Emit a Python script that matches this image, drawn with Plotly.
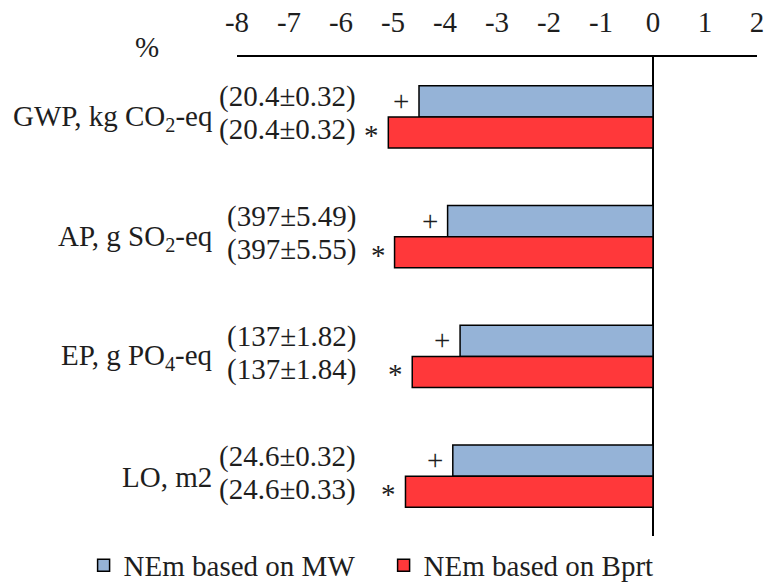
import plotly.graph_objects as go

categories = ["GWP", "AP", "EP", "LO"]
category_labels = ["GWP, kg CO<sub>2</sub>-eq", "AP, g SO<sub>2</sub>-eq",
                   "EP, g PO<sub>4</sub>-eq", "LO, m2"]
mw_values = [-4.50, -3.95, -3.71, -3.85]
bprt_values = [-5.09, -4.97, -4.63, -4.76]
mw_labels = ["(20.4±0.32)", "(397±5.49)", "(137±1.82)", "(24.6±0.32)"]
bprt_labels = ["(20.4±0.32)", "(397±5.55)", "(137±1.84)", "(24.6±0.33)"]
mw_marks = ["+", "+", "+", "+"]
bprt_marks = ["*", "*", "*", "*"]
tick_vals = [-8, -7, -6, -5, -4, -3, -2, -1, 0, 1, 2]
tick_text = ["-8", "-7", "-6", "-5", "-4", "-3", "-2", "-1", "0", "1", "2"]

FONT = "Liberation Serif"
FS = 29
TXT = "#1e1e1e"
BLUE = "#95B3D7"
RED = "#FF383A"

fig = go.Figure()
fig.add_trace(go.Bar(y=categories, x=mw_values, orientation="h", name="NEm based on MW",
                     marker=dict(color=BLUE, line=dict(color="black", width=1.5))))
fig.add_trace(go.Bar(y=categories, x=bprt_values, orientation="h", name="NEm based on Bprt",
                     marker=dict(color=RED, line=dict(color="black", width=1.5))))

ann = []
for i, c in enumerate(categories):
    ann.append(dict(x=0, xref="paper", y=c, yref="y", xanchor="right", yanchor="middle",
                    xshift=-23, yshift=-1, text=category_labels[i], showarrow=False,
                    font=dict(family=FONT, size=FS, color=TXT)))
    ann.append(dict(x=0, xref="paper", y=c, yref="y", xanchor="right", yanchor="middle",
                    xshift=121, yshift=20, text=mw_labels[i], showarrow=False,
                    font=dict(family=FONT, size=FS, color=TXT)))
    ann.append(dict(x=0, xref="paper", y=c, yref="y", xanchor="right", yanchor="middle",
                    xshift=121, yshift=-13, text=bprt_labels[i], showarrow=False,
                    font=dict(family=FONT, size=FS, color=TXT)))
    ann.append(dict(x=mw_values[i], xref="x", y=c, yref="y", xanchor="right", yanchor="middle",
                    xshift=-8, yshift=16, text=mw_marks[i], showarrow=False,
                    font=dict(family=FONT, size=FS, color=TXT)))
    ann.append(dict(x=bprt_values[i], xref="x", y=c, yref="y", xanchor="right", yanchor="middle",
                    xshift=-7, yshift=-18, text=bprt_marks[i], showarrow=False,
                    font=dict(family=FONT, size=FS, color=TXT)))
ann.append(dict(x=0, xref="paper", y=1, yref="paper", xanchor="center", yanchor="middle",
                xshift=-90, yshift=10, text="%", showarrow=False,
                font=dict(family=FONT, size=FS, color=TXT)))

fig.update_layout(
    width=769, height=582,
    margin=dict(l=237, r=12, t=57, b=46, autoexpand=False),
    paper_bgcolor="white", plot_bgcolor="white",
    barmode="group", bargap=0.48, bargroupgap=0,
    font=dict(family=FONT, size=FS, color=TXT),
    xaxis=dict(range=[-8, 2], side="top", tickmode="array", tickvals=tick_vals, ticktext=tick_text,
               showgrid=False, showline=True, linecolor="black", linewidth=2,
               zeroline=True, zerolinecolor="black", zerolinewidth=2,
               ticks="", ticklabelstandoff=11, automargin=False,
               tickfont=dict(family=FONT, size=FS, color=TXT)),
    yaxis=dict(autorange="reversed", showticklabels=False, showgrid=False, showline=False,
               zeroline=False, ticks="", automargin=False),
    legend=dict(orientation="h", x=-0.295, xanchor="left", y=-0.008, yanchor="top",
                font=dict(family=FONT, size=FS, color=TXT), traceorder="normal",
                itemwidth=30, entrywidth=255, entrywidthmode="pixels",
                bgcolor="rgba(0,0,0,0)"),
    annotations=ann,
)

fig.write_html("out.html")
